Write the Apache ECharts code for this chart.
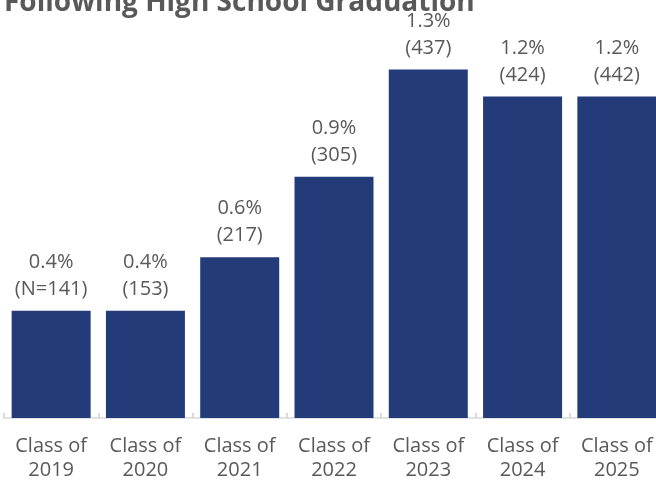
<!DOCTYPE html>
<html>
<head>
<meta charset="utf-8">
<script src="https://cdn.jsdelivr.net/npm/echarts@6/dist/echarts.min.js"></script>
<style>
  html, body { margin: 0; padding: 0; background: #fff; }
  #chart { width: 656px; height: 485px; }
</style>
</head>
<body>
<div id="chart"></div>
<script>
// chart data
const classYears = ['2019', '2020', '2021', '2022', '2023', '2024', '2025']
const pctValues = [0.4, 0.4, 0.6, 0.9, 1.3, 1.2, 1.2]
const countLabels = ['N=141', '153', '217', '305', '437', '424', '442']

const textColor = '#595959'
const fontName = "'Open Sans', sans-serif"

const chart = echarts.init(document.getElementById('chart'))
chart.setOption({
  backgroundColor: '#fff',
  animation: false,
  title: {
    text: 'Following High School Graduation',
    left: -1,
    top: -16,
    textStyle: {
      color: textColor,
      fontSize: 28,
      fontWeight: 'bold',
      fontFamily: fontName
    }
  },
  grid: {
    left: 4,
    width: 660,
    top: 16,
    bottom: 67,
    containLabel: false,
    outerBoundsMode: 'none'
  },
  xAxis: {
    type: 'category',
    data: classYears.map(y => 'Class of\n' + y),
    axisLine: {
      lineStyle: { color: '#d9d9d9', width: 1.5 }
    },
    axisTick: {
      show: true,
      inside: true,
      length: 5,
      lineStyle: { color: '#d0d0d0', width: 1.5 }
    },
    axisLabel: {
      color: textColor,
      fontSize: 20,
      fontFamily: fontName,
      lineHeight: 24,
      margin: 16,
      interval: 0
    }
  },
  yAxis: {
    type: 'value',
    min: 0,
    max: 1.5,
    show: false,
    splitLine: { show: false }
  },
  series: [{
    type: 'bar',
    barWidth: 79,
    data: pctValues,
    itemStyle: {
      color: '#243b7a'
    },
    label: {
      show: true,
      position: 'top',
      distance: 8,
      color: textColor,
      fontSize: 20,
      fontFamily: fontName,
      lineHeight: 27,
      formatter(p) {
        return p.value.toFixed(1) + '%\n(' + countLabels[p.dataIndex] + ')'
      }
    }
  }]
})
</script>
</body>
</html>
